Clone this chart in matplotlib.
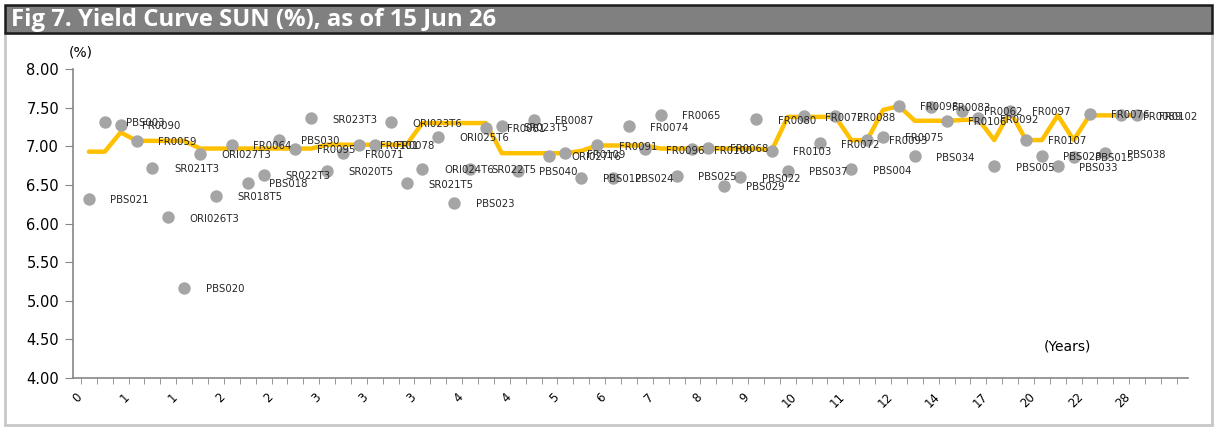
import matplotlib
matplotlib.use("Agg")
import matplotlib.pyplot as plt
import matplotlib.transforms as mtransforms
from matplotlib.patches import Rectangle
import numpy as np

# Bonds sorted by tenor, observed yields (%) and fitted curve (%)
bonds = [
    "PBS021", "PBS003", "FR0090", "FR0059", "SR021T3", "ORI026T3", "PBS020",
    "ORI027T3", "SR018T5", "FR0064", "PBS018", "SR022T3", "PBS030", "FR0095",
    "SR023T3", "SR020T5", "FR0071", "FR0101", "FR0078", "ORI023T6", "SR021T5",
    "ORI024T6", "ORI025T6", "PBS023", "SR022T5", "FR0081", "SR023T5", "PBS040",
    "FR0087", "ORI027T6", "FR0109", "PBS012", "FR0091", "PBS024", "FR0074",
    "FR0096", "FR0065", "PBS025", "FR0100", "FR0068", "PBS029", "PBS022",
    "FR0080", "FR0103", "PBS037", "FR0072", "FR0072", "FR0088", "PBS004",
    "FR0093", "FR0075", "FR0098", "PBS034", "FR0083", "FR0106", "FR0062",
    "FR0092", "PBS005", "FR0097", "FR0107", "PBS028", "PBS033", "PBS015",
    "FR0076", "PBS038", "FR0089", "FR0102",
]
yields = [
    6.32, 7.32, 7.28, 7.07, 6.72, 6.08, 5.17,
    6.90, 6.36, 7.02, 6.53, 6.63, 7.08, 6.97,
    7.36, 6.68, 6.91, 7.02, 7.02, 7.31, 6.52,
    6.71, 7.12, 6.27, 6.71, 7.24, 7.26, 6.68,
    7.34, 6.88, 6.91, 6.59, 7.01, 6.59, 7.26,
    6.96, 7.41, 6.62, 6.96, 6.98, 6.49, 6.60,
    7.35, 6.94, 6.68, 7.39, 7.04, 7.39, 6.70,
    7.08, 7.12, 7.52, 6.87, 7.51, 7.33, 7.46,
    7.36, 6.74, 7.46, 7.08, 6.88, 6.74, 6.86,
    7.42, 6.91, 7.40, 7.40,
]
curve = [
    6.93, 6.93, 7.18, 7.07, 7.07, 7.07, 7.07,
    6.97, 6.97, 6.97, 6.97, 6.97, 6.97, 6.97,
    6.97, 7.02, 7.02, 7.02, 7.02, 7.02, 7.02,
    7.30, 7.30, 7.30, 7.30, 7.30, 6.91, 6.91,
    6.91, 6.91, 6.91, 6.94, 7.01, 7.01, 7.01,
    7.01, 6.97, 6.97, 6.97, 6.97, 6.97, 6.97,
    6.97, 6.95, 7.38, 7.38, 7.38, 7.38, 7.08,
    7.08, 7.47, 7.52, 7.33, 7.33, 7.33, 7.34,
    7.35, 7.08, 7.45, 7.08, 7.08, 7.40, 7.08,
    7.40, 7.40, 7.40, 7.40,
]
tenor_labels = ["0", "1", "1", "2", "2", "3", "3", "3", "4", "4", "5", "6",
                "7", "8", "9", "10", "11", "12", "14", "17", "20", "22", "28"]

W, H = 1216, 428
fig = plt.figure(figsize=(W / 100, H / 100), dpi=100)

# panel frame and title bar
fig.patches.append(Rectangle((5 / W, 1 - 425 / H), 1207 / W, 392 / H,
                             transform=fig.transFigure, fill=False,
                             edgecolor="#C8C8C8", lw=2))
fig.patches.append(Rectangle((5 / W, 1 - 33 / H), 1207 / W, 28 / H,
                             transform=fig.transFigure, facecolor="#808080",
                             edgecolor="#1a1a1a", lw=1.8))
fig.text(11 / W, 1 - 19.5 / H, "Fig 7. Yield Curve SUN (%), as of 15 Jun 26",
         color="white", fontsize=17.2, fontweight="bold", family="Open Sans",
         va="center", ha="left")

ax = fig.add_axes([73 / W, 1 - 378 / H, (1188 - 73) / W, (378 - 69) / H])
x = np.arange(len(bonds))
ax.plot(x, curve, color="#FFC000", lw=3.2, solid_joinstyle="round",
        solid_capstyle="round", zorder=2)
ax.scatter(x, yields, s=80, color="#A5A5A5", linewidths=0, zorder=3)
for xi, yi, name in zip(x, yields, bonds):
    ax.annotate(name, (xi, yi), xytext=(15.5, -1), textcoords="offset points",
                ha="left", va="center", fontsize=7.3, color="#262626", zorder=4)

ax.set_xlim(-1.0, 69.2)
ax.set_ylim(4, 8)
ax.set_yticks(np.arange(4, 8.01, 0.5))
ax.set_yticklabels([f"{v:.2f}" for v in np.arange(4, 8.01, 0.5)], fontsize=10.5)
ax.tick_params(axis="y", length=6, color="#868686", pad=4)

ax.set_xticks(np.arange(-0.5, 69, 1), minor=True)
ax.set_xticks(np.arange(0, len(bonds), 3))
ax.set_xticklabels(tenor_labels, rotation=45, ha="right", fontsize=8.5)
ax.tick_params(axis="x", which="major", length=0, pad=9)
ax.tick_params(axis="x", which="minor", length=4, color="#868686")
shift = mtransforms.ScaledTranslation(-4 / 100, 0, fig.dpi_scale_trans)
for lbl in ax.get_xticklabels():
    lbl.set_transform(lbl.get_transform() + shift)

for side in ("top", "right"):
    ax.spines[side].set_visible(False)
for side in ("left", "bottom"):
    ax.spines[side].set_color("#868686")
    ax.spines[side].set_linewidth(1.2)

fig.text(81 / W, 1 - 52 / H, "(%)", fontsize=10, ha="center", va="center")
fig.text(1067 / W, 1 - 346 / H, "(Years)", fontsize=10, ha="center", va="center")

fig.savefig("out.png", dpi=100)
